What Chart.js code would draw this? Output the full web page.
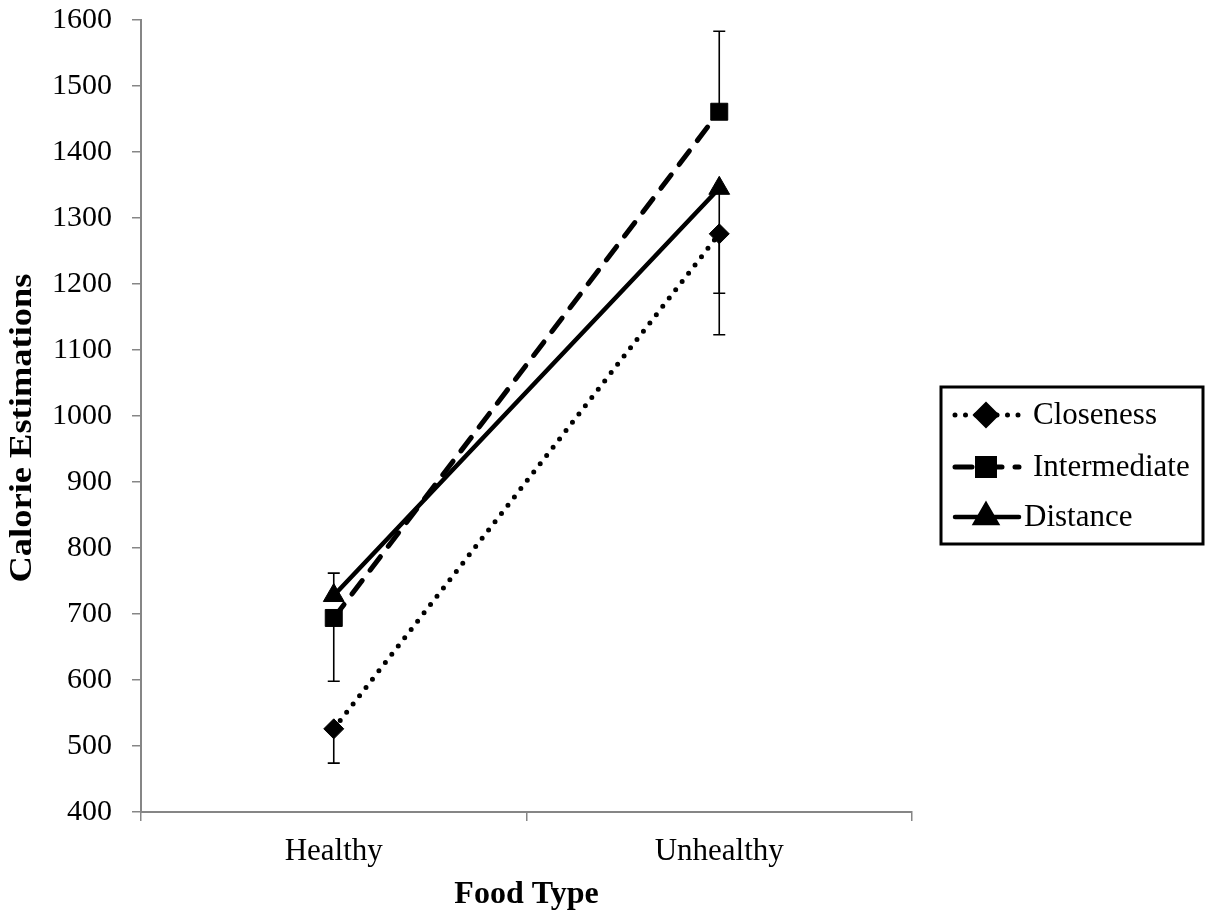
<!DOCTYPE html>
<html>
<head>
<meta charset="utf-8">
<script src="https://cdn.jsdelivr.net/npm/chart.js@4/dist/chart.umd.min.js"></script>
<style>
    body { margin: 0; background: #fff; }
    #wrap { width: 1209px; height: 918px; position: relative; }
</style>
</head>
<body>
<div id="wrap"><canvas id="chart"></canvas></div>
<script>
const categories = ['Healthy', 'Unhealthy'];
const seriesNames = ['Closeness', 'Intermediate', 'Distance'];

const closeness = [526, 1276];
const intermediate = [694, 1461];
const distance = [728, 1345];

// error bar lengths (only one side is drawn per point)
const closenessErrPlus = [0, 0];
const closenessErrMinus = [52, 90];
const intermediateErrPlus = [0, 122];
const intermediateErrMinus = [96, 0];
const distanceErrPlus = [34, 0];
const distanceErrMinus = [0, 222];

const yTicks = [400, 500, 600, 700, 800, 900, 1000, 1100, 1200, 1300, 1400, 1500, 1600];

const FONT = '"Liberation Serif", "Times New Roman", serif';
const AXIS_GRAY = '#868686';

const styles = [
    { dash: [0, 10.5], width: 5, pointStyle: 'rectRot', radius: 10 },
    { dash: [17, 13], width: 5, pointStyle: 'rect', radius: 12 },
    { dash: [], width: 4.5, pointStyle: 'triangle', radius: 12 }
];

const errPlus = [closenessErrPlus, intermediateErrPlus, distanceErrPlus];
const errMinus = [closenessErrMinus, intermediateErrMinus, distanceErrMinus];

const errorBars = {
    id: 'errorBars',
    beforeDatasetsDraw(chart) {
        const ctx = chart.ctx;
        const y = chart.scales.y;
        ctx.save();
        ctx.strokeStyle = '#000';
        ctx.lineWidth = 1.6;
        chart.data.datasets.forEach((ds, i) => {
            const meta = chart.getDatasetMeta(i);
            meta.data.forEach((pt, j) => {
                const v = ds.data[j];
                const top = y.getPixelForValue(v + errPlus[i][j]);
                const bot = y.getPixelForValue(v - errMinus[i][j]);
                const x = pt.x;
                ctx.beginPath();
                ctx.moveTo(x, top);
                ctx.lineTo(x, bot);
                if (errPlus[i][j] > 0) {
                    ctx.moveTo(x - 6, top);
                    ctx.lineTo(x + 6, top);
                }
                if (errMinus[i][j] > 0) {
                    ctx.moveTo(x - 6, bot);
                    ctx.lineTo(x + 6, bot);
                }
                ctx.stroke();
            });
        });
        ctx.restore();
    }
};

// y title is a bit stretched in the original, so draw it by hand
const yTitle = {
    id: 'yTitle',
    afterDraw(chart) {
        const ctx = chart.ctx;
        ctx.save();
        ctx.translate(23, 428);
        ctx.rotate(-Math.PI / 2);
        ctx.scale(1.14, 1);
        ctx.font = 'bold 32px ' + FONT;
        ctx.fillStyle = '#000';
        ctx.textAlign = 'center';
        ctx.textBaseline = 'middle';
        ctx.fillText('Calorie Estimations', 0, 0);
        ctx.restore();
    }
};

const boxLegend = {
    id: 'boxLegend',
    afterDraw(chart) {
        const ctx = chart.ctx;
        const left = chart.chartArea.right + 29;
        const top = 387;
        const w = 262, h = 157;
        ctx.save();
        ctx.lineWidth = 3;
        ctx.strokeStyle = '#000';
        ctx.strokeRect(left, top, w, h);

        const rows = [415, 467, 517];
        ctx.font = '31px ' + FONT;
        ctx.fillStyle = '#000';
        ctx.textBaseline = 'middle';
        seriesNames.forEach((name, i) => {
            const st = styles[i];
            const yy = rows[i];
            ctx.beginPath();
            ctx.setLineDash(st.dash);
            ctx.lineCap = 'round';
            ctx.lineWidth = st.width;
            ctx.moveTo(left + 14, yy);
            ctx.lineTo(left + 78, yy);
            ctx.stroke();
            ctx.setLineDash([]);
            Chart.helpers.drawPoint(ctx, {
                pointStyle: st.pointStyle,
                radius: st.radius,
                rotation: 0,
                borderWidth: 1
            }, left + 45, yy);
            ctx.fill();
            ctx.fillText(name, i === 2 ? left + 83 : left + 92, yy + 1);
        });
        ctx.restore();
    }
};

const datasets = [closeness, intermediate, distance].map((vals, i) => ({
    label: seriesNames[i],
    data: vals,
    borderColor: '#000',
    backgroundColor: '#000',
    borderWidth: styles[i].width,
    borderDash: styles[i].dash,
    borderCapStyle: 'round',
    pointStyle: styles[i].pointStyle,
    pointRadius: styles[i].radius,
    pointHoverRadius: styles[i].radius,
    pointBorderWidth: 1,
    tension: 0,
    fill: false
}));

new Chart(document.getElementById('chart'), {
    type: 'line',
    data: { labels: categories, datasets: datasets },
    options: {
        responsive: true,
        maintainAspectRatio: false,
        animation: false,
        layout: { padding: { top: 20, right: 297, bottom: 0, left: 0 } },
        plugins: {
            legend: { display: false },
            tooltip: { enabled: false }
        },
        scales: {
            x: {
                offset: true,
                afterFit: (axis) => {
                    axis.height = 106;
                    axis.paddingLeft = 0;
                    axis.paddingRight = 0;
                },
                grid: {
                    offset: true,
                    drawOnChartArea: false,
                    color: AXIS_GRAY,
                    lineWidth: 1.5,
                    tickLength: 9
                },
                border: { color: AXIS_GRAY, width: 2 },
                ticks: {
                    color: '#000',
                    font: { family: FONT, size: 31 },
                    padding: 12
                },
                title: {
                    display: true,
                    text: 'Food Type',
                    color: '#000',
                    font: { family: FONT, size: 32, weight: 'bold' },
                    padding: { top: 0, bottom: 4 }
                }
            },
            y: {
                min: 400,
                max: 1600,
                afterBuildTicks: (axis) => { axis.ticks = yTicks.map(v => ({ value: v })); },
                afterFit: (axis) => {
                    axis.width = 141;
                    axis.paddingTop = 0;
                    axis.paddingBottom = 0;
                },
                grid: {
                    drawOnChartArea: false,
                    color: AXIS_GRAY,
                    lineWidth: 1.5,
                    tickLength: 9
                },
                border: { color: AXIS_GRAY, width: 2 },
                ticks: {
                    color: '#000',
                    font: { family: FONT, size: 30 },
                    padding: 20,
                    callback: (v) => String(v)
                }
            }
        }
    },
    plugins: [errorBars, yTitle, boxLegend]
});
</script>
</body>
</html>
